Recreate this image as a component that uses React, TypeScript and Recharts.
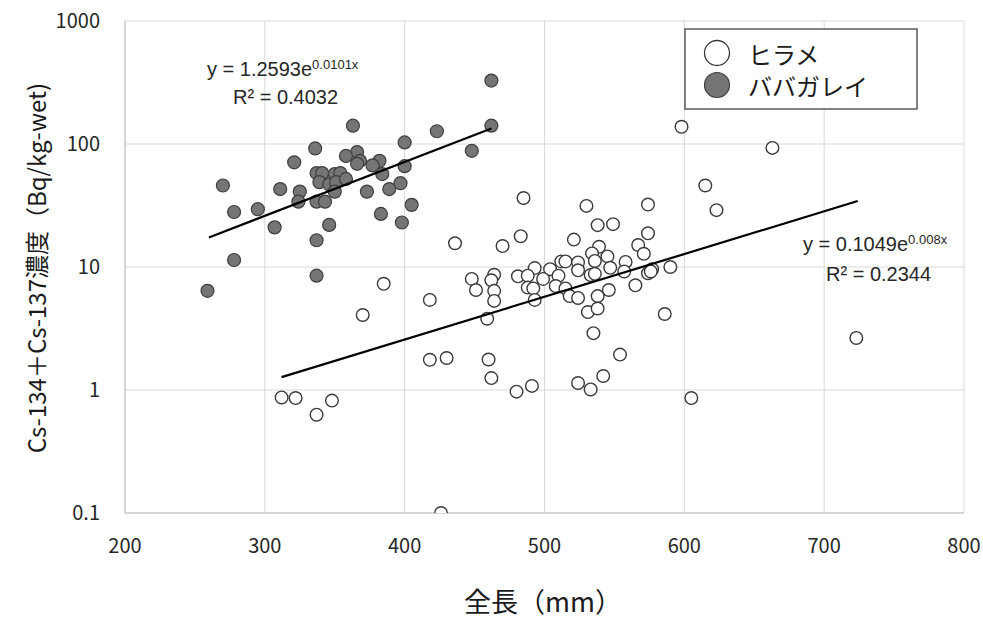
import React from 'react';
import { ScatterChart, Scatter, XAxis, YAxis, CartesianGrid } from 'recharts';

// ヒラメ: total length (mm) and Cs-134+Cs-137 (Bq/kg-wet)
const hirameLength = [
  312, 322, 337, 348, 370, 385, 418, 418, 426, 598, 485, 530, 574, 538, 549, 436,
  470, 483, 521, 574, 539, 534, 545, 536, 567, 571, 512, 515, 524, 558, 493, 504,
  524, 547, 557, 577, 590, 574, 448, 464, 462, 481, 488, 510, 499, 533, 536, 451,
  464, 488, 492, 508, 515, 546, 565, 464, 493, 518, 524, 538, 531, 538, 586, 459,
  535, 430, 460, 462, 480, 491, 524, 533, 542, 554, 605, 663, 615, 623, 723, 576,
];
const hirameConc = [
  0.87, 0.86, 0.63, 0.82, 4.07, 7.3, 5.4, 1.76, 0.1, 138, 36.4, 31.4, 32.2, 21.9, 22.3, 15.6,
  14.8, 17.8, 16.7, 18.8, 14.6, 12.9, 12.2, 11.2, 15.1, 12.8, 11.1, 11.1, 10.9, 11.0, 9.8, 9.6,
  9.4, 9.85, 9.2, 9.6, 10.0, 8.9, 8.0, 8.65, 7.8, 8.4, 8.5, 8.5, 8.0, 8.6, 8.8, 6.5,
  6.4, 6.8, 6.7, 7.0, 6.7, 6.5, 7.1, 5.3, 5.4, 5.8, 5.6, 5.8, 4.3, 4.6, 4.15, 3.8,
  2.9, 1.82, 1.77, 1.25, 0.97, 1.08, 1.14, 1.01, 1.3, 1.94, 0.86, 93, 46, 29, 2.65, 9.2,
];

// ババガレイ
const babaLength = [
  363, 423, 400, 448, 336, 366, 358, 321, 368, 366, 382, 377, 400, 384, 337, 341,
  350, 354, 339, 346, 351, 358, 270, 311, 325, 350, 373, 389, 397, 324, 337, 343,
  405, 278, 295, 383, 307, 346, 398, 337, 278, 337, 259, 462, 462,
];
const babaConc = [
  141, 127, 103, 88, 92, 86, 80, 71, 73, 69, 73, 67, 66, 57, 58, 58,
  57, 58, 49, 47, 49, 52, 46, 43, 41, 41, 41, 43, 48, 34, 34, 34,
  32, 28, 29.5, 27, 21, 22, 23, 16.5, 11.4, 8.5, 6.4, 141, 328,
];

const xTicks = [200, 300, 400, 500, 600, 700, 800];
const yTicks = [0.1, 1, 10, 100, 1000];

// exponential fits y = a·e^(bx), drawn over the measured length range
const hirameFit = { a: 0.1049, b: 0.008, from: 312, to: 724 };
const babaFit = { a: 1.2593, b: 0.0101, from: 260, to: 462 };

const hirameData = hirameLength.map((x, i) => ({ x, y: hirameConc[i] }));
const babaData = babaLength.map((x, i) => ({ x, y: babaConc[i] }));
const fitLine = (f: { a: number; b: number; from: number; to: number }) =>
  [f.from, f.to].map((x) => ({ x, y: f.a * Math.exp(f.b * x) }));

const jp = '"Noto Sans CJK JP", sans-serif';
const latin = '"Liberation Sans", Arial, sans-serif';

const OpenDot = (p: any) => (
  <circle cx={p.cx} cy={p.cy} r={6.3} fill="#fff" stroke="#3a3a3a" strokeWidth={1.4} />
);
const GrayDot = (p: any) => (
  <circle cx={p.cx} cy={p.cy} r={6.5} fill="#757575" stroke="#3f3f3f" strokeWidth={1.2} />
);
const NoDot = () => <g />;

export default function App() {
  return (
    <div style={{ position: 'absolute', left: 0, top: 0, background: '#fff' }}>
      <ScatterChart width={983} height={619} margin={{ top: 21, right: 19, bottom: 0, left: 0 }}>
        <CartesianGrid stroke="#d9d9d9" strokeWidth={1} />
        <XAxis
          type="number"
          dataKey="x"
          domain={[200, 800]}
          ticks={xTicks}
          height={106}
          axisLine={{ stroke: '#bfbfbf' }}
          tickLine={false}
          tickSize={0}
          tickMargin={26}
          tick={{ fill: '#262626', fontSize: 20, fontFamily: jp }}
        />
        <YAxis
          type="number"
          dataKey="y"
          scale="log"
          domain={[0.1, 1000]}
          ticks={yTicks}
          allowDataOverflow
          width={125}
          axisLine={{ stroke: '#bfbfbf' }}
          tickLine={false}
          tickSize={0}
          tickMargin={25}
          tickFormatter={(v: number) => String(v)}
          tick={{ fill: '#262626', fontSize: 20, fontFamily: jp }}
        />
        <Scatter data={hirameData} shape={OpenDot} isAnimationActive={false} />
        <Scatter data={babaData} shape={GrayDot} isAnimationActive={false} />
        <Scatter
          data={fitLine(babaFit)}
          line={{ stroke: '#000', strokeWidth: 2.2 }}
          shape={NoDot}
          isAnimationActive={false}
        />
        <Scatter
          data={fitLine(hirameFit)}
          line={{ stroke: '#000', strokeWidth: 2.2 }}
          shape={NoDot}
          isAnimationActive={false}
        />

        {/* fit equations */}
        <g fontFamily={latin} fontSize={20} fill="#262626">
          <text x={207} y={76}>
            y = 1.2593e<tspan dy={-7} fontSize={13}>0.0101x</tspan>
          </text>
          <text x={233} y={104}>R² = 0.4032</text>
          <text x={803} y={251}>
            y = 0.1049e<tspan dy={-7} fontSize={13}>0.008x</tspan>
          </text>
          <text x={826} y={281}>R² = 0.2344</text>
        </g>

        {/* legend */}
        <g>
          <rect x={685} y={29} width={232} height={80} fill="#fff" stroke="#595959" strokeWidth={1.5} />
          <circle cx={717} cy={53} r={12.5} fill="#fff" stroke="#3a3a3a" strokeWidth={1.3} />
          <circle cx={717} cy={85} r={12.5} fill="#757575" stroke="#3f3f3f" strokeWidth={1.2} />
          <text x={748} y={53} dominantBaseline="central" fontFamily={jp} fontSize={24} fill="#1a1a1a">ヒラメ</text>
          <text x={748} y={85} dominantBaseline="central" fontFamily={jp} fontSize={24} fill="#1a1a1a">ババガレイ</text>
        </g>

        {/* axis titles */}
        <text x={543} y={612} textAnchor="middle" fontFamily={jp} fontSize={27} fill="#1a1a1a">全長（mm）</text>
        <text
          x={35}
          y={268}
          transform="rotate(-90 35 268)"
          textAnchor="middle"
          dominantBaseline="central"
          fontFamily={jp}
          fontSize={24}
          fill="#1a1a1a"
        >
          Cs-134＋Cs-137濃度（Bq/kg-wet)
        </text>
      </ScatterChart>
    </div>
  );
}
